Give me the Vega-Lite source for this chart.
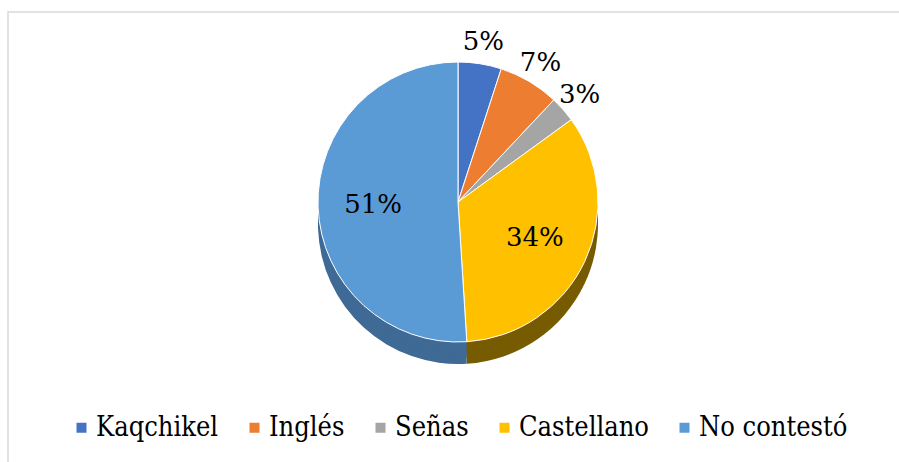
{
  "$schema": "https://vega.github.io/schema/vega-lite/v6.json",
  "width": 900,
  "height": 460,
  "autosize": "none",
  "padding": {"left": 8, "top": 12, "right": 0, "bottom": 0},
  "background": "white",
  "config": {"view": {"stroke": "#d9d9d9", "strokeWidth": 1.5}},
  "data": {"values": [
    {"cat": "Kaqchikel", "idx": 1, "value": 0.05},
    {"cat": "Inglés", "idx": 2, "value": 0.07},
    {"cat": "Señas", "idx": 3, "value": 0.03},
    {"cat": "Castellano", "idx": 4, "value": 0.34},
    {"cat": "No contestó", "idx": 5, "value": 0.51}
  ]},
  "encoding": {
    "theta": {"field": "value", "type": "quantitative", "stack": true},
    "order": {"field": "idx", "type": "quantitative"}
  },
  "layer": [
    {
      "mark": {"type": "point", "opacity": 0},
      "encoding": {
        "theta": null,
        "x": {"field": "idx", "type": "quantitative", "axis": null},
        "y": {"field": "idx", "type": "quantitative", "axis": null}
      }
    },
    {
      "mark": {"type": "arc", "radius": 140, "yOffset": -18},
      "encoding": {"color": {"field": "cat", "type": "nominal", "legend": null,
        "scale": {"domain": ["Kaqchikel", "Inglés", "Señas", "Castellano", "No contestó"], "range": ["#2F5597", "#AE5A21", "#7B7B7B", "#775B00", "#3E6A95"]}}}
    },
    {
      "mark": {"type": "arc", "radius": 140, "yOffset": -24},
      "encoding": {"color": {"field": "cat", "type": "nominal", "legend": null,
        "scale": {"domain": ["Kaqchikel", "Inglés", "Señas", "Castellano", "No contestó"], "range": ["#2F5597", "#AE5A21", "#7B7B7B", "#775B00", "#3E6A95"]}}}
    },
    {
      "mark": {"type": "arc", "radius": 140, "yOffset": -29},
      "encoding": {"color": {"field": "cat", "type": "nominal", "legend": null,
        "scale": {"domain": ["Kaqchikel", "Inglés", "Señas", "Castellano", "No contestó"], "range": ["#2F5597", "#AE5A21", "#7B7B7B", "#775B00", "#3E6A95"]}}}
    },
    {
      "mark": {"type": "arc", "radius": 140, "yOffset": -35},
      "encoding": {"color": {"field": "cat", "type": "nominal", "legend": null,
        "scale": {"domain": ["Kaqchikel", "Inglés", "Señas", "Castellano", "No contestó"], "range": ["#2F5597", "#AE5A21", "#7B7B7B", "#775B00", "#3E6A95"]}}}
    },
    {
      "mark": {"type": "arc", "radius": 140, "yOffset": -40, "stroke": "white", "strokeWidth": 1},
      "encoding": {"color": {"field": "cat", "type": "nominal",
        "scale": {"domain": ["Kaqchikel", "Inglés", "Señas", "Castellano", "No contestó"], "range": ["#4472C4", "#ED7D31", "#A5A5A5", "#FFC000", "#5B9BD5"]},
        "legend": {"orient": "none", "legendX": 60, "legendY": 402, "direction": "horizontal", "columns": 5, "title": null,
          "symbolType": "square", "symbolSize": 100, "symbolStrokeWidth": 0, "labelFontSize": 27, "labelFont": "DejaVu Serif Condensed",
          "labelColor": "black", "columnPadding": 22, "labelOffset": 1, "labelLimit": 400}}}
    },
    {
      "mark": {"type": "text", "radius": 162, "yOffset": -40, "fontSize": 26, "font": "DejaVu Serif", "fill": "black"},
      "encoding": {"text": {"condition": {"test": "datum.value < 0.1", "field": "value", "type": "quantitative", "format": ".0%"}, "value": ""}}
    },
    {
      "mark": {"type": "text", "radius": 85, "yOffset": -40, "fontSize": 26, "font": "DejaVu Serif", "fill": "black"},
      "encoding": {"text": {"condition": {"test": "datum.value >= 0.1", "field": "value", "type": "quantitative", "format": ".0%"}, "value": ""}}
    }
  ],
  "resolve": {"scale": {"color": "independent"}}
}
